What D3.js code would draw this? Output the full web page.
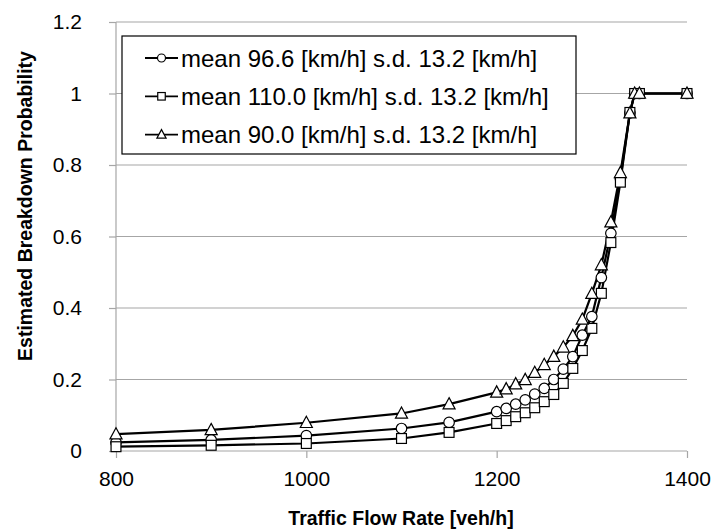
<!DOCTYPE html>
<html>
<head>
<meta charset="utf-8">
<script src="https://cdn.jsdelivr.net/npm/d3@7/dist/d3.min.js"></script>
<style>
body{margin:0;background:#fff;}
text{font-family:"Liberation Sans",Arial,sans-serif;}
</style>
</head>
<body>
<svg id="c" width="719" height="531"></svg>
<script>
const flow = [800,900,1000,1100,1150,1200,1210,1220,1230,1240,1250,1260,1270,1280,1290,1300,1310,1320,1330,1340,1345,1350,1400];
const pMean966 = [0.024,0.031,0.043,0.063,0.080,0.110,0.119,0.131,0.143,0.159,0.175,0.200,0.229,0.264,0.324,0.376,0.485,0.609,0.762,0.946,1,1,1];
const pMean110 = [0.012,0.016,0.021,0.035,0.052,0.077,0.085,0.096,0.107,0.121,0.138,0.158,0.189,0.231,0.281,0.343,0.441,0.583,0.752,0.947,1,1,1];
const pMean90  = [0.047,0.059,0.079,0.105,0.131,0.164,0.173,0.187,0.199,0.219,0.241,0.264,0.290,0.322,0.368,0.440,0.520,0.640,0.778,0.945,1,1,1];
const seriesNames = ["mean 96.6 [km/h] s.d. 13.2 [km/h]","mean 110.0 [km/h] s.d. 13.2 [km/h]","mean 90.0 [km/h] s.d. 13.2 [km/h]"];
const seriesMarkers = ["circle","square","triangle"];
const xTicks = [800,1000,1200,1400];
const yTicks = [0,0.2,0.4,0.6,0.8,1,1.2];
const yTickLabels = ["0","0.2","0.4","0.6","0.8","1","1.2"];
const xTitle = "Traffic Flow Rate [veh/h]";
const yTitle = "Estimated Breakdown Probability";

const svg = d3.select("#c");
const x = d3.scaleLinear().domain([800,1400]).range([116,687]);
const y = d3.scaleLinear().domain([0,1.2]).range([451,22]);
const FONT = "Liberation Sans, Arial, sans-serif";

// gridlines
svg.append("g").selectAll("line").data(yTicks.filter(d=>d>0)).join("line")
  .attr("x1",116).attr("x2",687).attr("y1",d=>y(d)).attr("y2",d=>y(d))
  .attr("stroke","#a6a6a6").attr("stroke-width",1.2);

// y axis
const yAxis = svg.append("g").attr("transform","translate(116,0)")
  .call(d3.axisLeft(y).tickValues(yTicks).tickFormat((d,i)=>yTickLabels[i]).tickSize(7).tickPadding(27));
yAxis.select(".domain").attr("stroke","#a6a6a6").attr("stroke-width",1.2).attr("d","M0,22V451");
yAxis.selectAll(".tick line").attr("stroke","#a6a6a6").attr("stroke-width",1.2);
yAxis.selectAll(".tick text").attr("font-size","21px").attr("fill","#000").attr("font-family",FONT);

// x axis
const xAxis = svg.append("g").attr("transform","translate(0,451)")
  .call(d3.axisBottom(x).tickValues(xTicks).tickFormat(d3.format("d")).tickSize(7).tickPadding(13));
xAxis.select(".domain").attr("stroke","#a6a6a6").attr("stroke-width",1.2).attr("d","M116,0H687");
xAxis.selectAll(".tick line").attr("stroke","#a6a6a6").attr("stroke-width",1.2);
xAxis.selectAll(".tick text").attr("font-size","21px").attr("fill","#000").attr("font-family",FONT);

// titles
svg.append("text").attr("x",401).attr("y",525).attr("text-anchor","middle")
  .attr("font-size","19.5px").attr("font-weight","bold").text(xTitle);
svg.append("text").attr("transform","translate(32,206) rotate(-90)").attr("text-anchor","middle")
  .attr("font-size","19.5px").attr("font-weight","bold").text(yTitle);

const allSeries = [pMean966,pMean110,pMean90];
function drawMarker(g, type, cx, cy, s){
  if(type==="circle"){
    g.append("circle").attr("cx",cx).attr("cy",cy).attr("r",s*0.5)
      .attr("fill","#fff").attr("stroke","#000").attr("stroke-width",1.2);
  } else if(type==="square"){
    g.append("rect").attr("x",cx-s*0.47).attr("y",cy-s*0.47).attr("width",s*0.94).attr("height",s*0.94)
      .attr("fill","#fff").attr("stroke","#000").attr("stroke-width",1.2);
  } else {
    const h=s*1.0, w=s*1.15;
    g.append("path").attr("d",`M${cx},${cy-h*0.62}L${cx+w/2},${cy+h*0.45}L${cx-w/2},${cy+h*0.45}Z`)
      .attr("fill","#fff").attr("stroke","#000").attr("stroke-width",1.2);
  }
}
const line = d3.line().x((d,i)=>x(flow[i])).y(d=>y(d));
allSeries.forEach((vals,si)=>{
  svg.append("path").datum(vals).attr("d",line).attr("fill","none")
    .attr("stroke","#000").attr("stroke-width",2.2);
});
allSeries.forEach((vals,si)=>{
  const g = svg.append("g");
  vals.forEach((v,i)=>drawMarker(g, seriesMarkers[si], x(flow[i]), y(v), 10.5));
});

// legend
const lg = svg.append("g");
lg.append("rect").attr("x",122).attr("y",36).attr("width",454).attr("height",118)
  .attr("fill","#fff").attr("stroke","#000").attr("stroke-width",1.2);
seriesNames.forEach((name,i)=>{
  const cy = 58 + i*38.3;
  lg.append("line").attr("x1",145).attr("x2",178).attr("y1",cy).attr("y2",cy)
    .attr("stroke","#000").attr("stroke-width",1.8);
  drawMarker(lg, seriesMarkers[i], 161.5, cy, 8);
  lg.append("text").attr("x",181).attr("y",cy+8.5).attr("font-size","24px").attr("fill","#000")
    .attr("font-family",FONT).text(name);
});
</script>
</body>
</html>
